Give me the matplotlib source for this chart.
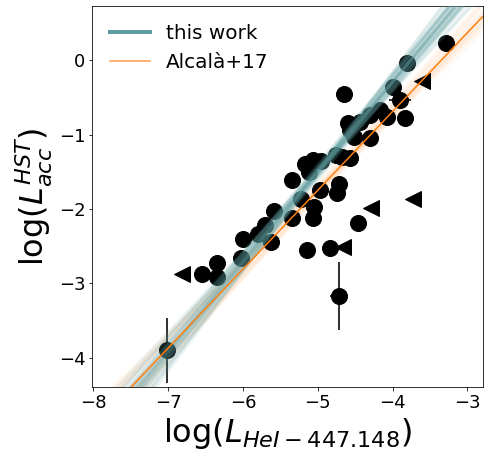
import numpy as np
import matplotlib
matplotlib.use('Agg')
import matplotlib.pyplot as plt
from matplotlib.lines import Line2D

# Puntos detectados (círculos)
x_det = [-7.02, -4.72, -6.55, -6.35, -6.34, -6.00, -6.03, -5.80, -5.70, -5.63,
         -5.59, -5.34, -5.22, -5.35, -5.17, -5.06, -5.12, -4.97, -5.05, -5.06,
         -4.72, -4.74, -5.14, -4.83, -4.46, -4.75, -4.95, -4.68, -4.57, -4.65,
         -4.59, -4.43, -4.30, -4.17, -4.08, -4.30, -4.52, -4.57, -3.83, -3.99,
         -3.90, -3.80, -3.29]
y_det = [-3.90, -3.17, -2.87, -2.72, -2.91, -2.41, -2.66, -2.33, -2.22, -2.45,
         -2.03, -1.61, -1.86, -2.12, -1.39, -1.34, -1.50, -1.75, -1.97, -2.12,
         -1.66, -1.79, -2.55, -2.53, -2.19, -1.27, -1.36, -1.30, -1.32, -0.45,
         -0.85, -0.83, -0.74, -0.67, -0.76, -1.05, -1.03, -0.94, -0.78, -0.36,
         -0.53, -0.04, 0.23]
xerr_det = [0.0, 0.12, 0.0, 0.0, 0.0, 0.0, 0.0, 0.0, 0.0, 0.0,
            0.0, 0.0, 0.0, 0.0, 0.0, 0.0, 0.0, 0.0, 0.0, 0.0,
            0.0, 0.0, 0.0, 0.10, 0.0, 0.0, 0.0, 0.0, 0.0, 0.0,
            0.0, 0.0, 0.0, 0.0, 0.0, 0.0, 0.0, 0.0, 0.0, 0.0,
            0.15, 0.0, 0.0]
yerr_det = [0.44, 0.46, 0.0, 0.0, 0.0, 0.0, 0.0, 0.0, 0.0, 0.0,
            0.0, 0.0, 0.0, 0.0, 0.0, 0.0, 0.0, 0.0, 0.0, 0.0,
            0.0, 0.0, 0.0, 0.0, 0.0, 0.0, 0.0, 0.0, 0.0, 0.0,
            0.0, 0.0, 0.0, 0.0, 0.0, 0.0, 0.0, 0.0, 0.0, 0.0,
            0.0, 0.0, 0.0]

# Límites superiores (triángulos)
x_lim = [-6.81, -4.66, -4.29, -3.73, -3.61]
y_lim = [-2.87, -2.51, -1.99, -1.86, -0.28]

# Muestras del ajuste (this work): pendiente y valor en x = -5
pend_fit = [1.21, 1.19, 1.23, 1.17, 1.25, 1.20, 1.22, 1.15, 1.27, 1.18, 1.24, 1.21,
            1.13, 1.29, 1.20, 1.22, 1.16, 1.26, 1.19, 1.23, 1.10, 1.32, 1.21, 1.20,
            1.14, 1.28, 1.18, 1.24, 1.08, 1.34]
y5_fit = [-1.50, -1.47, -1.53, -1.45, -1.55, -1.49, -1.52, -1.44, -1.56, -1.51, -1.48, -1.50,
          -1.46, -1.54, -1.58, -1.42, -1.50, -1.49, -1.53, -1.47, -1.51, -1.49, -1.40, -1.60,
          -1.52, -1.48, -1.56, -1.44, -1.50, -1.50]

# Relación de Alcalà+17 y sus muestras
pend_alc = 1.06
y5_alc = -1.75
pend_alc_m = [1.06, 1.02, 1.10, 0.99, 1.13, 1.04, 1.08, 1.01, 1.11, 1.06, 0.97, 1.15]
y5_alc_m = [-1.75, -1.70, -1.80, -1.72, -1.78, -1.66, -1.84, -1.75, -1.69, -1.81, -1.75, -1.75]

fig = plt.figure(figsize=(489 / 72, 461 / 72), dpi=72)
ax = fig.add_axes([0.1888, 0.1612, 0.7996, 0.8258])

xx = np.linspace(-8.5, -2.5, 50)

for a, y5 in zip(pend_alc_m, y5_alc_m):
    ax.plot(xx, a * (xx + 5) + y5, color='C1', alpha=0.035, lw=5, zorder=1)

ax.errorbar(x_det, y_det, xerr=xerr_det, yerr=yerr_det, fmt='o', color='k',
            ms=16, ecolor='#333333', elinewidth=2, zorder=2)
ax.plot(x_lim, y_lim, '<', color='k', ms=16, zorder=2)

for a, y5 in zip(pend_fit, y5_fit):
    ax.plot(xx, a * (xx + 5) + y5, color='cadetblue', alpha=0.12, lw=3, zorder=3)

ax.plot(xx, pend_alc * (xx + 5) + y5_alc, color='C1', lw=1.5, zorder=4)

ax.set_xlim(-8.013, -2.786)
ax.set_ylim(-4.39, 0.73)
ax.tick_params(labelsize=18)
ax.set_xlabel(r'log($L_{HeI-447.148}$)', fontsize=32)
ax.set_ylabel(r'log($L_{acc}^{HST}$)', fontsize=32)

handles = [Line2D([], [], color='cadetblue', lw=4),
           Line2D([], [], color='C1', lw=1.5, alpha=0.8)]
ax.legend(handles, ['this work', 'Alcalà+17'], loc='upper left',
          frameon=False, fontsize=20)

fig.savefig('out.png', dpi=72)
